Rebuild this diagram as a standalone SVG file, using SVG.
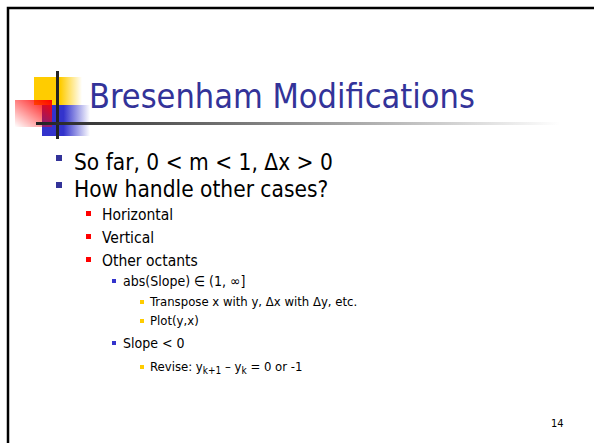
<svg xmlns="http://www.w3.org/2000/svg" width="594" height="443" viewBox="0 0 594 443">
<defs>
<linearGradient id="gy" x1="0" y1="0" x2="1" y2="0"><stop offset="0.55" stop-color="#FFCC00"/><stop offset="1" stop-color="#FFCC00" stop-opacity="0"/></linearGradient>
<linearGradient id="gb" x1="0" y1="0" x2="1" y2="0"><stop offset="0.45" stop-color="#3333CC"/><stop offset="1" stop-color="#3333CC" stop-opacity="0"/></linearGradient>
<linearGradient id="gr" x1="1" y1="0" x2="0" y2="1"><stop offset="0" stop-color="#FF0000"/><stop offset="1" stop-color="#FF0000" stop-opacity="0"/></linearGradient>
<linearGradient id="gl" x1="0" y1="0" x2="1" y2="0"><stop offset="0" stop-color="#222"/><stop offset="1" stop-color="#fff"/></linearGradient>
</defs>
<style>
text{font-family:"DejaVu Sans Condensed","DejaVu Sans",sans-serif;fill:#000}
.t{font-size:34px;fill:#333399}
.l1{font-size:22.5px}
.l2{font-size:15.5px}
.l3{font-size:14px}
.l4{font-size:13px}
.b1{fill:#333399}.b2{fill:#FF0000}.b3{fill:#3333CC}.b4{fill:#FFCC00}
</style>
<rect width="594" height="443" fill="#fff"/>
<path d="M8,443 V8 H594" fill="none" stroke="#000" stroke-width="2.5"/>
<g id="logo">
<rect x="34" y="77" width="48" height="28" fill="url(#gy)"/>
<rect x="42" y="105" width="48" height="31" fill="url(#gb)"/>
<rect x="15" y="100" width="37" height="27" fill="url(#gr)"/>
<rect x="56" y="71" width="3" height="68" fill="#222"/>
<rect x="36" y="122" width="524" height="3" fill="url(#gl)"/>
</g>
<g id="title"><text class="t" x="89" y="108">Bresenham Modifications</text></g>
<g id="bullets">
<rect class="b1" x="56" y="155" width="6" height="6"/>
<text class="l1" x="74" y="170">So far, 0 &lt; m &lt; 1, Δx &gt; 0</text>
<rect class="b1" x="56" y="182" width="6" height="6"/>
<text class="l1" x="74" y="197">How handle other cases?</text>
<rect class="b2" x="86" y="211" width="5" height="5"/>
<text class="l2" x="102" y="220">Horizontal</text>
<rect class="b2" x="86" y="234" width="5" height="5"/>
<text class="l2" x="102" y="243">Vertical</text>
<rect class="b2" x="86" y="257" width="5" height="5"/>
<text class="l2" x="102" y="266">Other octants</text>
<rect class="b3" x="112" y="279" width="4" height="4"/>
<text class="l3" x="123" y="286">abs(Slope) ∈ (1, ∞]</text>
<rect class="b4" x="140" y="300" width="4" height="4"/>
<text class="l4" x="150" y="306">Transpose x with y, Δx with Δy, etc.</text>
<rect class="b4" x="140" y="319" width="4" height="4"/>
<text class="l4" x="150" y="325">Plot(y,x)</text>
<rect class="b3" x="112" y="341" width="4" height="4"/>
<text class="l3" x="123" y="348">Slope &lt; 0</text>
<rect class="b4" x="140" y="365" width="4" height="4"/>
<text class="l4" x="150" y="371">Revise: y<tspan font-size="10" dy="3">k+1</tspan><tspan dy="-3"> – y</tspan><tspan font-size="10" dy="3">k</tspan><tspan dy="-3"> = 0 or -1</tspan></text>
</g>
<text x="551" y="427" font-size="11">14</text>
</svg>
